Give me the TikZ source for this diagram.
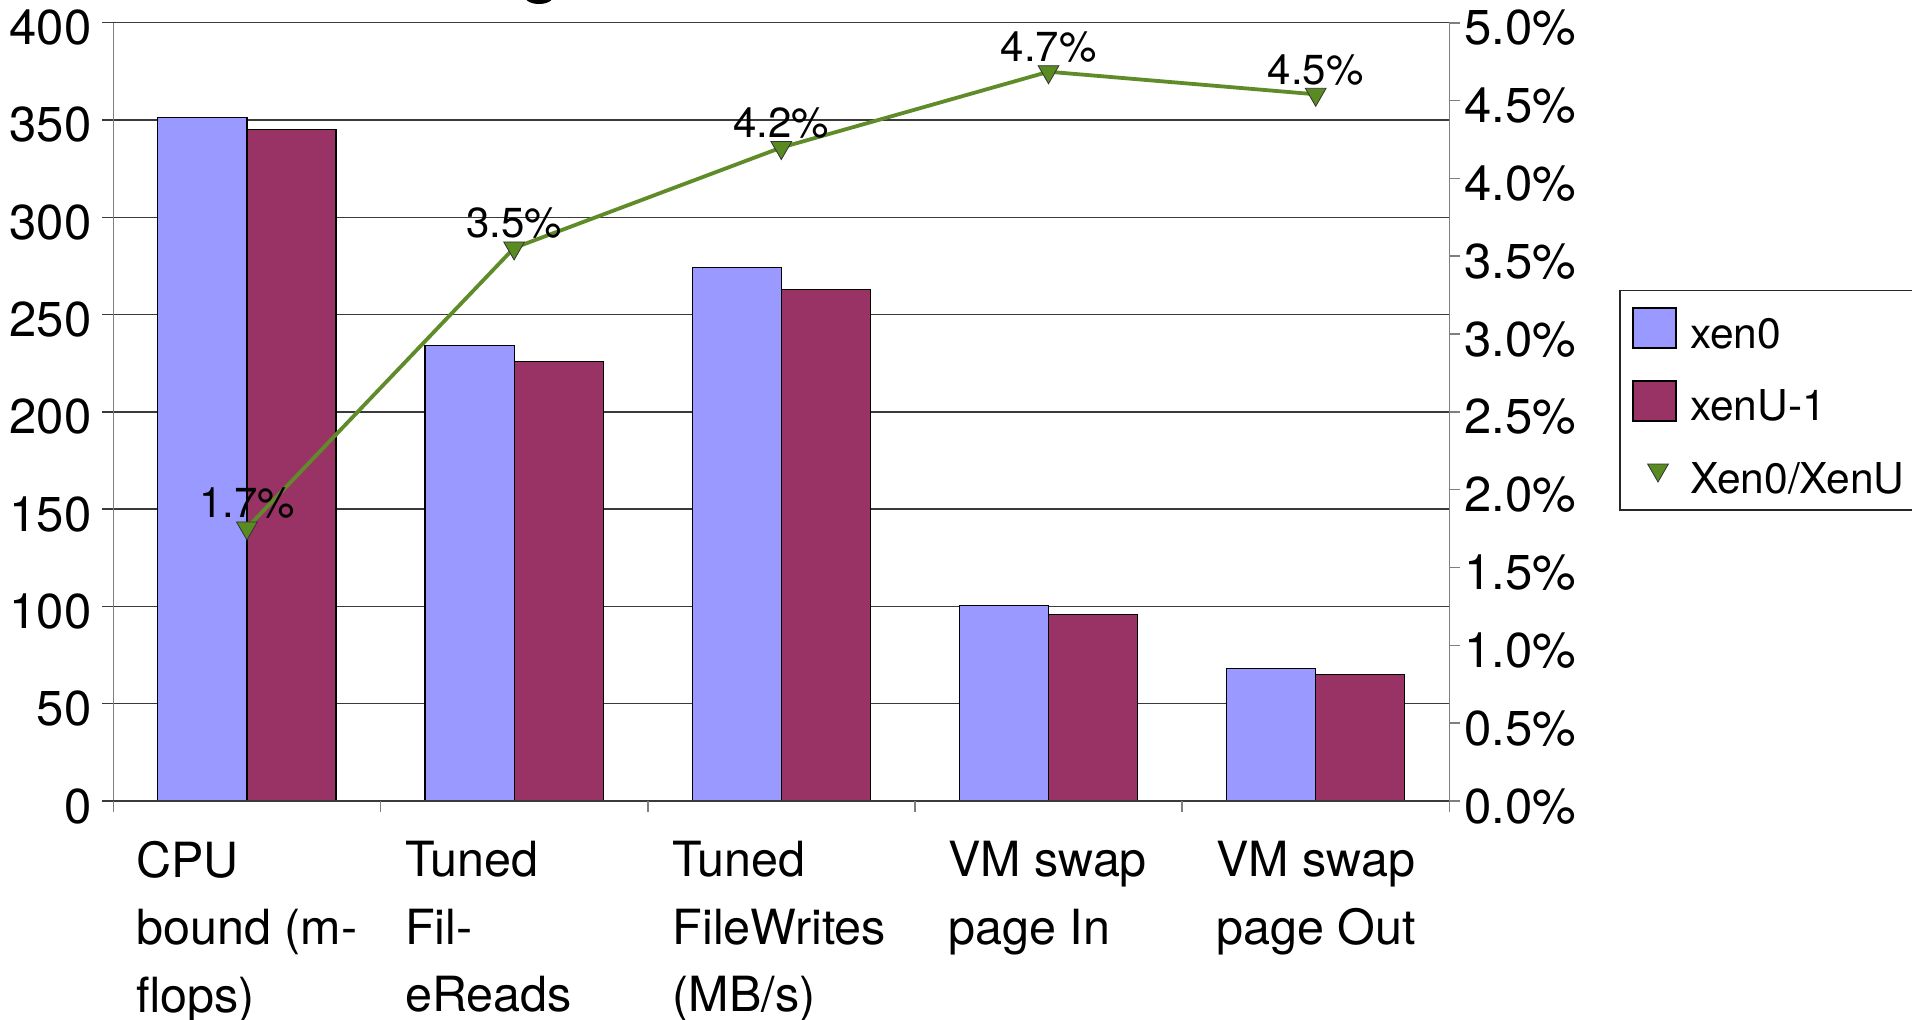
\documentclass[tikz,border=0pt]{standalone}
\usepackage{fontspec}
\setmainfont{TeX Gyre Heros}
\usetikzlibrary{shapes.geometric}
\definecolor{barA}{HTML}{9999FF}
\definecolor{barB}{HTML}{993366}
\definecolor{ratio}{HTML}{5F8B28}
\definecolor{ratiomark}{HTML}{5A8A22}
\definecolor{gridc}{HTML}{3A3A3A}
\definecolor{axisc}{HTML}{7F7F7F}

\begin{document}
\begin{tikzpicture}[x=1pt,y=-1pt,
  gridline/.style={draw=gridc,line width=1.5pt},
  axisline/.style={draw=axisc,line width=1.6pt},
  xenA/.style={fill=barA,draw=black,line width=1.2pt},
  xenB/.style={fill=barB,draw=black,line width=1.2pt},
  series/.style={draw=ratio,line width=3.8pt,line join=round},
  marker/.style={regular polygon,regular polygon sides=3,shape border rotate=180,
    fill=ratiomark,draw=black!80,line width=0.8pt,minimum size=24pt,inner sep=0pt},
  axlab/.style={font=\fontsize{49}{58}\selectfont,inner sep=0pt},
  catlab/.style={font=\fontsize{48.5}{67.5}\selectfont,align=left,inner sep=0pt,anchor=north west},
  datlab/.style={font=\fontsize{42}{50}\selectfont,inner sep=0pt,anchor=base},
  leglab/.style={font=\fontsize{42.5}{50}\selectfont,inner sep=0pt,anchor=base west},
]
\clip (0,0) rectangle (1912,1020);
\fill[white] (0,0) rectangle (1912,1020);

% foot of the chart title above the plot
\fill[black] (539,-6) ellipse (16 and 10);

% horizontal grid with left ticks
\foreach \v in {0,50,...,400}
  \draw[gridline] (102,{801-\v*1.9458}) -- (1449.3,{801-\v*1.9458});

% bars: xen0 and xenU-1 per benchmark
\foreach \i/\a/\b in {0/351.2/345.2, 1/233.9/225.9, 2/274.0/262.9, 3/100.6/96.0, 4/68.0/64.9} {
  \pgfmathsetmacro\xs{113.3+\i*267.2}
  \draw[xenA] (\xs+44.53,801) rectangle (\xs+133.6,{801-\a*1.9458});
  \draw[xenB] (\xs+133.6,801) rectangle (\xs+222.67,{801-\b*1.9458});
}

% axes
\draw[axisline] (113.3,22.7) -- (113.3,801);
\draw[axisline] (1449.3,22.7) -- (1449.3,801);
\draw[gridline] (102,801) -- (1449.3,801);
\foreach \i in {0,...,5}
  \draw[axisline] ({113.3+\i*267.2},801) -- ({113.3+\i*267.2},812);
\foreach \k in {0,...,10}
  \draw[axisline] (1449.3,{801-\k*77.83}) -- (1460,{801-\k*77.83});

% left axis labels
\foreach \v in {0,50,...,400}
  \node[axlab,anchor=base east] (l\v) at (91.5,{801-\v*1.9458+22}) {\v};

% right axis labels
\foreach \k/\t in {0/0.0,1/0.5,2/1.0,3/1.5,4/2.0,5/2.5,6/3.0,7/3.5,8/4.0,9/4.5,10/5.0}
  \node[axlab,anchor=base west] (r\k) at (1464,{801-\k*77.83+22}) {\t\%};

% category labels
\node[catlab] (c1) at (136,841) {CPU\\bound (m-\\flops)};
\node[catlab] (c2) at (405,841) {Tuned\\Fil-\\eReads};
\node[catlab] (c3) at (672.5,841) {Tuned\\FileWrites\\(MB/s)};
\node[catlab] (c4) at (948,841) {VM swap\\page In};
\node[catlab] (c5) at (1216,841) {VM swap\\page Out};

% Xen0/XenU ratio series
\coordinate (p1) at (246.9,{801-1.754*155.66});
\coordinate (p2) at (514.1,{801-3.553*155.66});
\coordinate (p3) at (781.3,{801-4.198*155.66});
\coordinate (p4) at (1048.5,{801-4.685*155.66});
\coordinate (p5) at (1315.7,{801-4.54*155.66});
\draw[series] (p1) -- (p2) -- (p3) -- (p4) -- (p5);
\foreach \i/\t in {1/1.7,2/3.5,3/4.2,4/4.7,5/4.5} {
  \node[marker] (m\i) at (p\i) {};
  \node[datlab] (d\i) at ([yshift=10pt]p\i) {\t\%};
}

% legend
\draw[draw=black!85,line width=1.4pt] (1620,290.7) rectangle (1940,510);
\draw[xenA] (1633,308) rectangle (1676,348);
\draw[xenB] (1633,381) rectangle (1676,421);
\node[marker] (lgm) at (1658,470) {};
\node[leglab] (lg1) at (1690,348) {xen0};
\node[leglab] (lg2) at (1690,420) {xenU-1};
\node[leglab] (lg3) at (1690,493) {Xen0/XenU};
\end{tikzpicture}
\end{document}
